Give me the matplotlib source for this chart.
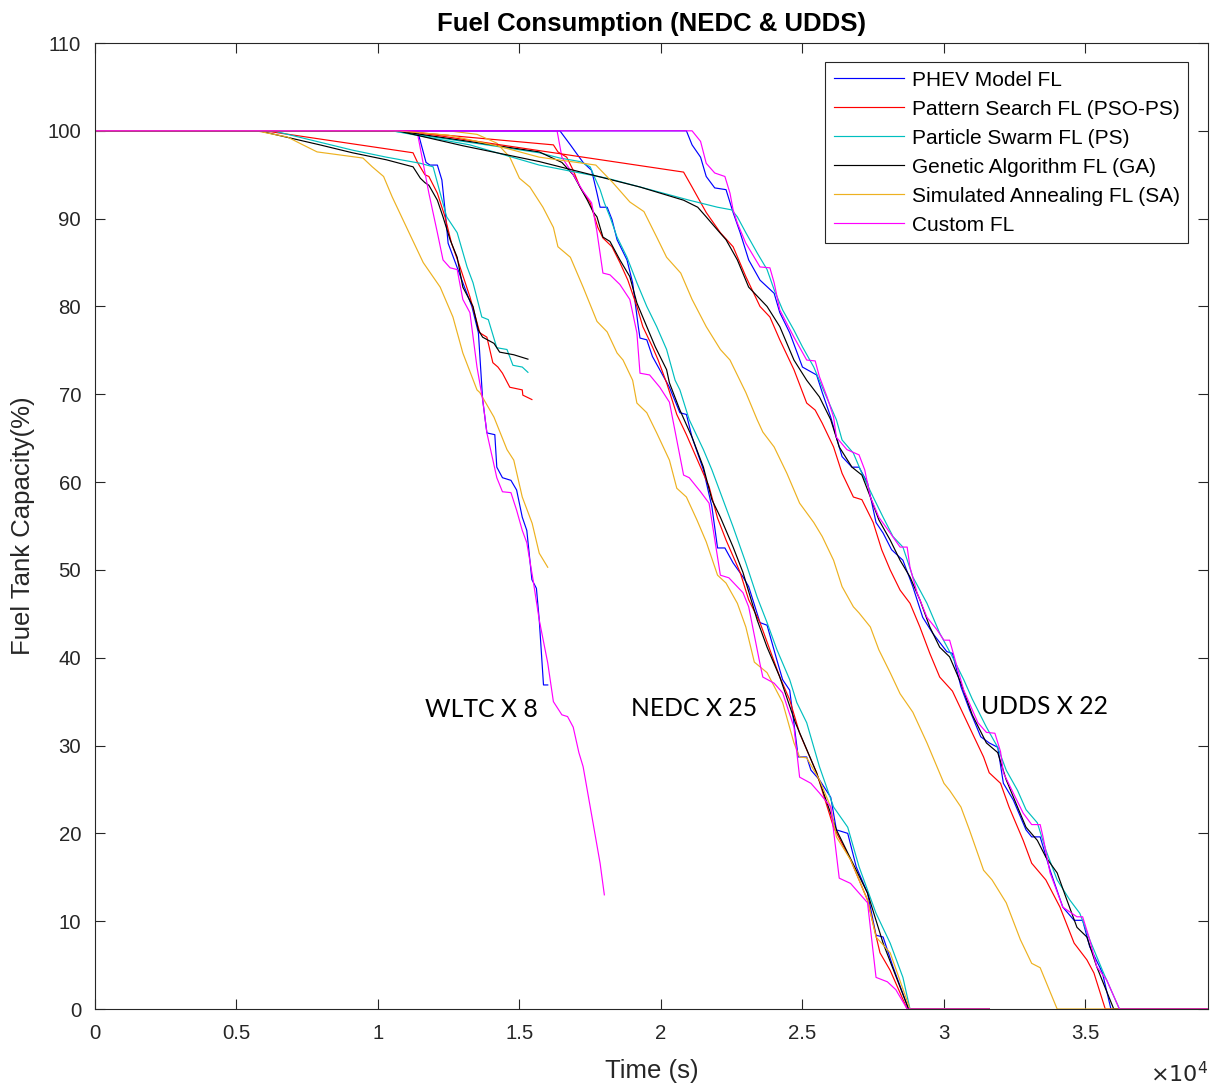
import matplotlib
matplotlib.use("Agg")
import matplotlib.pyplot as plt
import numpy as np
from matplotlib.ticker import FuncFormatter

# time in units of 1e4 s, fuel tank level in %
labels = ["PHEV Model FL", "Pattern Search FL (PSO-PS)", "Particle Swarm FL (PS)",
          "Genetic Algorithm FL (GA)", "Simulated Annealing FL (SA)", "Custom FL"]
colors = ["#0000ff", "#ff0000", "#00bfbf", "#000000", "#edb120", "#ff00ff"]

# ---- WLTC x 8
wltc_blue = [(0, 100), (1.14, 100), (1.17, 96.4), (1.184, 96.1), (1.21, 96.1), (1.226, 94.4),
             (1.237, 91), (1.248, 87.2), (1.27, 85.3), (1.30, 82.7), (1.332, 80), (1.355, 77),
             (1.37, 69.4), (1.385, 65.6), (1.413, 65.4), (1.42, 61.7), (1.44, 60.5), (1.47, 60.2),
             (1.49, 59.1), (1.51, 56), (1.526, 54.5), (1.544, 48.9), (1.56, 47.9), (1.57, 44.3),
             (1.585, 36.9), (1.60, 36.9)]
wltc_red = [(0, 100), (0.60, 100), (0.83, 98.9), (1.124, 97.5), (1.14, 96.4), (1.166, 95),
            (1.18, 94.8), (1.21, 92.9), (1.237, 90.2), (1.26, 87.2), (1.29, 84.5), (1.325, 81.1),
            (1.36, 77), (1.385, 76.5), (1.406, 73.6), (1.424, 73.1), (1.44, 72.4), (1.466, 70.8),
            (1.51, 70.5), (1.512, 69.9), (1.544, 69.4)]
wltc_cyan = [(0, 100), (0.63, 100), (0.91, 97.8), (1.03, 97), (1.15, 96.3), (1.195, 95.9),
             (1.22, 92.9), (1.243, 90.2), (1.28, 88.4), (1.315, 84.5), (1.336, 82.7), (1.367, 78.8),
             (1.39, 78.5), (1.42, 75.3), (1.456, 75.1), (1.477, 73.3), (1.51, 73.1), (1.53, 72.5)]
wltc_black = [(0, 100), (0.58, 100), (0.795, 98.4), (0.91, 97.5), (1.03, 96.7), (1.124, 95.9),
              (1.15, 94.6), (1.166, 94.1), (1.18, 93.8), (1.21, 92.1), (1.23, 90.2), (1.255, 87.6),
              (1.28, 85.6), (1.30, 82.2), (1.336, 80), (1.355, 77.3), (1.37, 76.5), (1.41, 75.8),
              (1.43, 74.8), (1.48, 74.5), (1.53, 74)]
wltc_orange = [(0, 100), (0.57, 100), (0.68, 99.3), (0.735, 98.4), (0.785, 97.6), (0.947, 96.9),
               (0.98, 95.9), (1.02, 94.8), (1.05, 92.5), (1.11, 88.4), (1.16, 85), (1.22, 82.2),
               (1.265, 78.8), (1.30, 74.7), (1.35, 70.5), (1.36, 70.2), (1.41, 67.4), (1.456, 63.7),
               (1.48, 62.5), (1.51, 58.3), (1.545, 55.3), (1.57, 51.9), (1.60, 50.3)]
wltc_magenta = [(0, 100), (1.138, 100), (1.18, 92.9), (1.21, 88.4), (1.23, 85.3), (1.255, 84.4),
                (1.28, 84.2), (1.30, 80.8), (1.325, 79.3), (1.35, 73.1), (1.37, 69.4), (1.385, 65.6),
                (1.42, 60.5), (1.44, 58.9), (1.47, 58.8), (1.49, 56.8), (1.51, 54.5), (1.526, 53.1),
                (1.548, 48.9), (1.57, 44.3), (1.60, 39.4), (1.62, 35), (1.65, 33.5), (1.67, 33.3),
                (1.69, 32.1), (1.71, 29.2), (1.725, 27.6), (1.76, 21.2), (1.785, 16.6), (1.80, 13)]

# ---- NEDC x 25
nedc_blue = [(0, 100), (1.643, 100), (1.68, 98.4), (1.70, 97.5), (1.725, 96.4), (1.755, 95.5),
             (1.774, 92.9), (1.785, 91.3), (1.81, 91.3), (1.827, 89.9), (1.845, 87.6), (1.88, 85.3),
             (1.90, 82.7), (1.92, 77.7), (1.926, 76.4), (1.95, 76.2), (1.97, 74.3), (2.03, 70.8),
             (2.067, 67.9), (2.09, 67.7), (2.11, 65.1), (2.15, 61.4), (2.18, 57.2), (2.20, 52.5),
             (2.226, 52.5), (2.255, 50.8), (2.29, 49.2), (2.31, 48.1), (2.35, 44), (2.375, 43.7),
             (2.41, 39.7), (2.43, 37.5), (2.455, 36.3), (2.485, 28.7), (2.515, 28.7), (2.53, 27.2),
             (2.56, 26.1), (2.60, 24.1), (2.62, 20.4), (2.66, 20), (2.69, 16.2), (2.73, 13.2),
             (2.76, 8.4), (2.785, 8.2), (2.82, 4.8), (2.875, 0), (3.16, 0)]
nedc_red = [(0, 100), (1.07, 100), (1.62, 98.4), (1.636, 97.6), (1.667, 97), (1.69, 95.5),
            (1.714, 93.6), (1.75, 91.8), (1.777, 89), (1.795, 87.8), (1.827, 86.8), (1.855, 85),
            (1.883, 83), (1.915, 80), (1.936, 77.7), (1.97, 75.4), (1.99, 73.9), (2.02, 71.3),
            (2.056, 67.7), (2.09, 65.4), (2.14, 61.7), (2.17, 59.5), (2.20, 55.9), (2.23, 53.4),
            (2.28, 49.7), (2.31, 46.6), (2.35, 44), (2.385, 40.9), (2.42, 37.8), (2.455, 35.2),
            (2.49, 31.4), (2.55, 26.9), (2.61, 20.7), (2.67, 17), (2.73, 12.4), (2.774, 6.4),
            (2.81, 4.4), (2.87, 0), (3.16, 0)]
nedc_cyan = [(0, 100), (1.05, 100), (1.30, 98.8), (1.57, 97.5), (1.643, 96.9), (1.714, 96.5),
             (1.75, 95.9), (1.767, 94.6), (1.785, 93.3), (1.80, 91.8), (1.82, 90.2), (1.845, 87.9),
             (1.88, 85.6), (1.915, 82.7), (1.95, 80), (1.985, 77.7), (2.02, 75.1), (2.05, 71.6),
             (2.067, 70.5), (2.10, 67.1), (2.15, 63.7), (2.18, 61.4), (2.21, 58.8), (2.255, 54.9),
             (2.30, 50.8), (2.34, 46.9), (2.375, 44), (2.41, 40.9), (2.455, 37.5), (2.48, 34.9),
             (2.515, 32.6), (2.56, 27.6), (2.61, 23), (2.66, 20.7), (2.70, 16.2), (2.76, 10.9),
             (2.81, 7.5), (2.855, 3.6), (2.88, 0), (3.16, 0)]
nedc_black = [(0, 100), (1.067, 100), (1.30, 98.9), (1.57, 97.6), (1.65, 96.4), (1.69, 95),
              (1.714, 93.6), (1.74, 92.1), (1.76, 90.8), (1.774, 90.2), (1.795, 87.9), (1.82, 87.4),
              (1.855, 85.3), (1.89, 83.4), (1.915, 80.4), (1.95, 77.7), (1.98, 75.4), (2.02, 72.8),
              (2.03, 71.3), (2.067, 68.2), (2.11, 65.1), (2.15, 61.7), (2.18, 58), (2.21, 56),
              (2.255, 52.6), (2.29, 49.7), (2.34, 44.3), (2.375, 41.2), (2.42, 37.8), (2.475, 32.6),
              (2.55, 26.9), (2.62, 20.4), (2.73, 13.2), (2.785, 7.5), (2.875, 0), (3.16, 0)]
nedc_orange = [(0, 100), (1.25, 100), (1.35, 99.6), (1.42, 98.6), (1.466, 97), (1.50, 94.6),
               (1.537, 93.6), (1.583, 91.3), (1.62, 89), (1.636, 86.8), (1.68, 85.6), (1.725, 82.2),
               (1.774, 78.3), (1.81, 77.1), (1.845, 74.7), (1.866, 73.9), (1.90, 71.6), (1.915, 69),
               (1.95, 67.9), (1.985, 65.6), (2.03, 62.5), (2.056, 59.3), (2.09, 58.3), (2.127, 55.7),
               (2.16, 53.2), (2.20, 49.4), (2.23, 48.5), (2.27, 46.2), (2.30, 43.5), (2.33, 39.5),
               (2.375, 38.3), (2.43, 34.9), (2.47, 30.3), (2.49, 28.7), (2.515, 28.6), (2.56, 26.1),
               (2.60, 23), (2.62, 19.6), (2.67, 17), (2.73, 12.4), (2.76, 8.2), (2.81, 6.4),
               (2.88, 0), (3.16, 0)]
nedc_magenta = [(0, 100), (1.633, 100), (1.65, 97), (1.69, 95), (1.725, 93.1), (1.755, 91.8),
                (1.773, 88.7), (1.795, 83.8), (1.82, 83.6), (1.855, 82.5), (1.89, 80.8), (1.915, 77),
                (1.926, 72.4), (1.96, 72.2), (1.996, 70.8), (2.03, 69.1), (2.08, 60.8), (2.10, 60.5),
                (2.14, 58.9), (2.17, 57.6), (2.21, 49.4), (2.24, 49.1), (2.29, 47.4), (2.31, 45.8),
                (2.35, 39.3), (2.36, 37.8), (2.40, 37.1), (2.43, 36), (2.47, 32.1), (2.49, 26.4),
                (2.53, 25.7), (2.56, 24.6), (2.60, 23), (2.63, 14.9), (2.67, 14.3), (2.73, 12.1),
                (2.76, 3.6), (2.80, 3.1), (2.83, 2.2), (2.87, 0), (3.16, 0)]

# ---- UDDS x 22
udds_blue = [(0, 100), (2.09, 100), (2.11, 98.4), (2.14, 97), (2.16, 94.8), (2.19, 93.5),
             (2.23, 93.3), (2.255, 90.7), (2.28, 88.4), (2.31, 85.3), (2.35, 83), (2.40, 81.5),
             (2.42, 79.3), (2.455, 77), (2.50, 73.1), (2.55, 72.2), (2.57, 70.2), (2.60, 67.4),
             (2.62, 65.1), (2.64, 62.9), (2.675, 61.7), (2.70, 61.7), (2.73, 59.9), (2.76, 55.4),
             (2.785, 54.2), (2.815, 52.3), (2.855, 51.1), (2.89, 48.1), (2.925, 44.6), (2.96, 42.8),
             (3.01, 40.7), (3.03, 40.5), (3.06, 36.7), (3.09, 34.1), (3.13, 31), (3.16, 30.3),
             (3.19, 29.8), (3.21, 25.7), (3.245, 23.8), (3.29, 20.4), (3.31, 19.6), (3.34, 19.6),
             (3.375, 15.8), (3.42, 11.6), (3.46, 10.1), (3.49, 10.1), (3.515, 7.1), (3.55, 4.8),
             (3.56, 4.1), (3.59, 0), (3.933, 0)]
udds_red = [(0, 100), (1.10, 100), (2.08, 95.3), (2.11, 93.6), (2.16, 90.7), (2.21, 88.4),
            (2.255, 86.8), (2.30, 83.4), (2.35, 80), (2.385, 78.8), (2.42, 76.2), (2.47, 72.8),
            (2.515, 69), (2.545, 68.2), (2.57, 66.7), (2.61, 64), (2.64, 61), (2.68, 58.3),
            (2.71, 58), (2.75, 55.4), (2.78, 52.3), (2.81, 50), (2.845, 47.7), (2.88, 46.2),
            (2.915, 43.5), (2.95, 40.5), (2.985, 37.8), (3.03, 36.2), (3.09, 32.1), (3.14, 28.7),
            (3.16, 26.9), (3.20, 25.7), (3.23, 23), (3.28, 19.2), (3.31, 16.6), (3.36, 14.7),
            (3.41, 11.6), (3.46, 7.5), (3.505, 5.6), (3.53, 4.1), (3.57, 0), (3.933, 0)]
udds_cyan = [(0, 100), (1.05, 100), (1.325, 98.4), (1.57, 96.1), (1.81, 94.6), (1.985, 93.1),
             (2.10, 92.1), (2.20, 91.3), (2.25, 91), (2.27, 90.2), (2.30, 88.4), (2.34, 86.1),
             (2.375, 84.2), (2.40, 81.9), (2.43, 79.6), (2.47, 77.3), (2.50, 75.4), (2.54, 73.1),
             (2.57, 70.8), (2.62, 67.1), (2.64, 64.8), (2.68, 63.3), (2.71, 61), (2.75, 58.3),
             (2.785, 56), (2.82, 53.8), (2.855, 52.6), (2.89, 49.2), (2.94, 46.2), (2.985, 42.8),
             (3.03, 40.1), (3.07, 37.5), (3.10, 35.3), (3.15, 32.1), (3.19, 29.8), (3.22, 27.2),
             (3.26, 24.9), (3.29, 22.7), (3.33, 21.2), (3.36, 18.1), (3.40, 14.7), (3.445, 12.4),
             (3.48, 10.9), (3.515, 7.9), (3.56, 4.4), (3.62, 0), (3.933, 0)]
udds_black = [(0, 100), (1.07, 100), (1.30, 98.3), (1.57, 96.5), (1.926, 93.6), (2.08, 92.1),
              (2.13, 91.3), (2.16, 90.2), (2.20, 88.7), (2.23, 87.6), (2.27, 85.3), (2.31, 82.2),
              (2.375, 80), (2.42, 77.7), (2.47, 73.9), (2.515, 71.6), (2.56, 69.7), (2.60, 67.1),
              (2.63, 64), (2.675, 61.7), (2.71, 60.8), (2.74, 58.3), (2.77, 55.7), (2.81, 53.4),
              (2.845, 51.1), (2.88, 49.2), (2.915, 46.6), (2.95, 43.5), (2.985, 41.2), (3.02, 40.1),
              (3.06, 37.1), (3.10, 33.5), (3.15, 30.3), (3.19, 29.2), (3.22, 26.1), (3.26, 23),
              (3.29, 20.7), (3.33, 19.2), (3.36, 17.3), (3.40, 15.5), (3.43, 12.8), (3.47, 9.3),
              (3.505, 8.2), (3.54, 4.8), (3.60, 0), (3.933, 0)]
udds_orange = [(0, 100), (1.07, 100), (1.25, 99.5), (1.42, 98.3), (1.57, 97.0), (1.77, 96.1),
               (1.83, 94.1), (1.89, 91.9), (1.94, 90.8), (1.985, 87.9), (2.02, 85.6), (2.07, 83.8),
               (2.11, 80.8), (2.16, 77.7), (2.21, 75.1), (2.244, 73.9), (2.30, 70.2), (2.34, 67.1),
               (2.36, 65.7), (2.40, 64), (2.445, 61), (2.49, 57.6), (2.54, 55.4), (2.57, 53.8),
               (2.61, 51.1), (2.64, 48.1), (2.68, 45.8), (2.70, 45.1), (2.74, 43.5), (2.77, 40.9),
               (2.81, 38.3), (2.845, 35.9), (2.89, 33.8), (2.94, 30.3), (3.0, 25.7), (3.02, 24.9),
               (3.06, 23), (3.09, 20.4), (3.14, 15.8), (3.17, 14.7), (3.22, 12.1), (3.27, 7.9),
               (3.31, 5.2), (3.34, 4.7), (3.40, 0), (3.933, 0)]
udds_magenta = [(0, 100), (2.11, 100), (2.14, 98.8), (2.16, 96.3), (2.19, 95.2), (2.226, 94.8),
                (2.244, 92.9), (2.255, 91), (2.27, 89.5), (2.30, 87.2), (2.35, 84.5), (2.385, 84.4),
                (2.40, 82.7), (2.42, 79.6), (2.47, 76.5), (2.515, 73.9), (2.545, 73.8), (2.56, 72),
                (2.587, 69.7), (2.61, 67.4), (2.62, 65.1), (2.657, 63.7), (2.70, 63.1), (2.72, 61.4),
                (2.74, 58.3), (2.77, 56), (2.81, 54.2), (2.845, 52.6), (2.87, 52.6), (2.88, 50.3),
                (2.905, 47.4), (2.94, 44.6), (2.975, 43.2), (3.0, 42), (3.02, 42), (3.04, 39.7),
                (3.07, 36.3), (3.12, 32.6), (3.15, 31.5), (3.18, 31.4), (3.20, 29.3), (3.21, 26.9),
                (3.245, 24.6), (3.28, 22.3), (3.31, 21), (3.34, 21), (3.35, 19.6), (3.375, 15.5),
                (3.42, 11.6), (3.47, 10.5), (3.49, 10.5), (3.515, 7.9), (3.54, 4.8), (3.575, 3.3),
                (3.62, 0), (3.933, 0)]

groups = [
    [wltc_blue, wltc_red, wltc_cyan, wltc_black, wltc_orange, wltc_magenta],
    [nedc_blue, nedc_red, nedc_cyan, nedc_black, nedc_orange, nedc_magenta],
    [udds_blue, udds_red, udds_cyan, udds_black, udds_orange, udds_magenta],
]
cycle_labels = [("WLTC X 8", 1.166, 34.1), ("NEDC X 25", 1.895, 34.2), ("UDDS X 22", 3.13, 34.4)]

plt.rcParams["font.family"] = ["Liberation Sans", "DejaVu Sans"]

fig = plt.figure(figsize=(12.17, 10.86), dpi=100)
ax = fig.add_axes([0.078, 0.0709, 0.9146, 0.8895])

for gi, series in enumerate(groups):
    for si, pts in enumerate(series):
        arr = np.array(pts)
        ax.plot(arr[:, 0], arr[:, 1], color=colors[si], lw=0.85,
                label=labels[si] if gi == 0 else None)

for txt, tx, ty in cycle_labels:
    ax.text(tx, ty, txt, fontsize=17.8, family=["Lato", "DejaVu Sans"], va="center", ha="left")

ax.set_xlim(0, 3.933)
ax.set_ylim(0, 110)
ax.set_xticks(np.arange(0, 3.6, 0.5))
ax.set_yticks(np.arange(0, 111, 10))
ax.xaxis.set_major_formatter(FuncFormatter(lambda v, p: f"{v:g}"))
ax.tick_params(direction="in", top=True, right=True, labelsize=14.7, length=7,
               color="#262626", labelcolor="#262626")
ax.tick_params(axis="x", pad=11)
ax.tick_params(axis="y", pad=10)
for sp in ax.spines.values():
    sp.set_color("#262626")
    sp.set_linewidth(0.8)

ax.set_title("Fuel Consumption (NEDC & UDDS)", fontsize=18.5, fontweight="bold", pad=9)
ax.set_xlabel("Time (s)", fontsize=18.5, color="#262626", labelpad=11)
ax.set_ylabel("Fuel Tank Capacity(%)", fontsize=18.5, color="#262626", labelpad=9)
ax.text(1.0, -0.068, r"$\times10^{4}$", transform=ax.transAxes, ha="right", va="center",
        fontsize=16, color="#262626")

leg = ax.legend(loc="upper right", bbox_to_anchor=(0.982, 0.980), borderaxespad=0,
                fontsize=15, handlelength=3.4, labelspacing=0.48, handletextpad=0.35,
                borderpad=0.4, fancybox=False, framealpha=1, edgecolor="#262626")
leg.get_frame().set_linewidth(0.8)

fig.savefig("out.png", dpi=100)
